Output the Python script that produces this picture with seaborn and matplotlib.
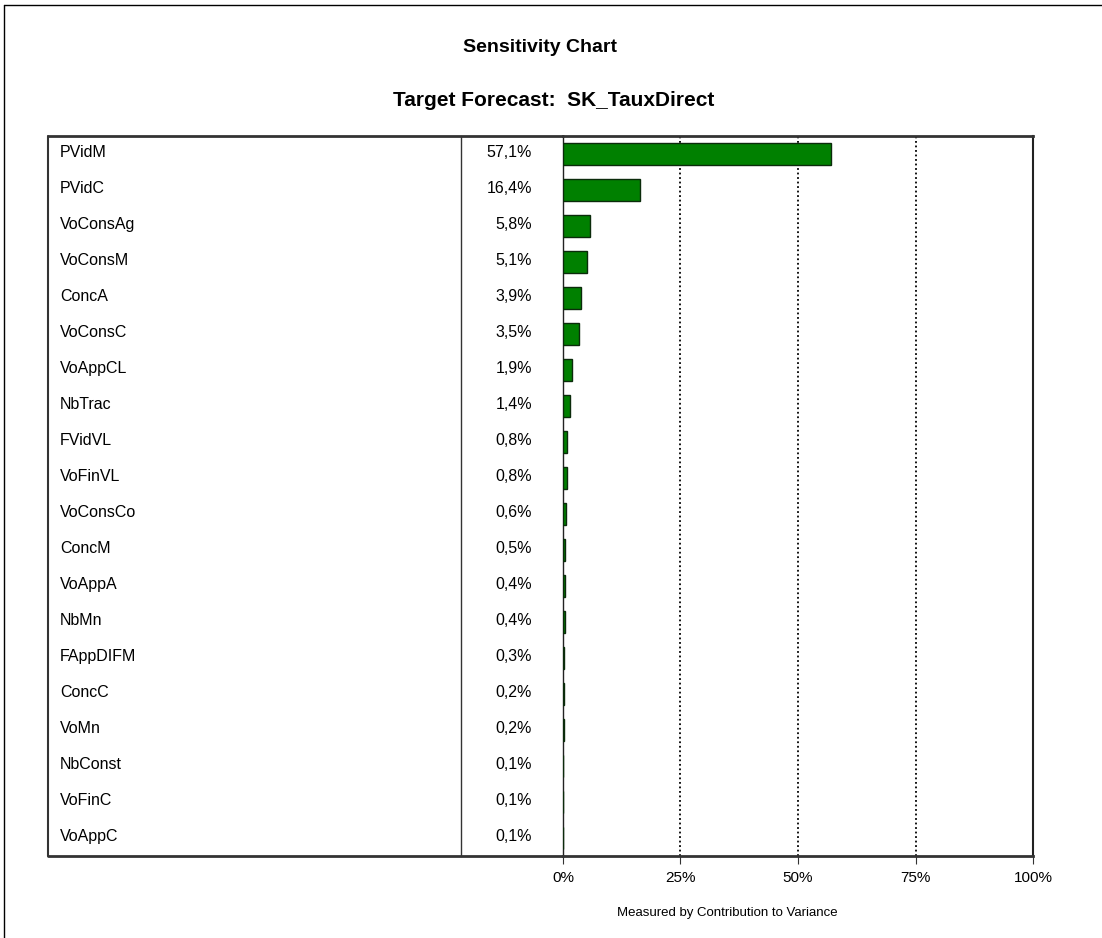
import matplotlib
matplotlib.use("Agg")
import matplotlib.pyplot as plt
import matplotlib.transforms as mtransforms
from matplotlib.lines import Line2D
import seaborn as sns
import pandas as pd

# ---- data ----
variables = ["PVidM", "PVidC", "VoConsAg", "VoConsM", "ConcA", "VoConsC", "VoAppCL",
             "NbTrac", "FVidVL", "VoFinVL", "VoConsCo", "ConcM", "VoAppA", "NbMn",
             "FAppDIFM", "ConcC", "VoMn", "NbConst", "VoFinC", "VoAppC"]
contributions = [57.1, 16.4, 5.8, 5.1, 3.9, 3.5, 1.9, 1.4, 0.8, 0.8, 0.6, 0.5, 0.4, 0.4,
                 0.3, 0.2, 0.2, 0.1, 0.1, 0.1]
value_labels = [f"{v:.1f}%".replace(".", ",") for v in contributions]
x_ticks = [0, 25, 50, 75, 100]
x_tick_labels = ["0%", "25%", "50%", "75%", "100%"]

sns.set_style("white")
plt.rcParams["font.family"] = ["Liberation Sans", "DejaVu Sans"]
plt.rcParams["text.color"] = "black"
plt.rcParams["xtick.color"] = "black"
plt.rcParams["axes.labelcolor"] = "black"

W, H = 1102, 938
fig = plt.figure(figsize=(W / 100, H / 100), dpi=100)


def fx(px):
    return px / W


def fy(py):
    return 1 - py / H


box_left, box_right, box_top, box_bottom = 48, 1033, 136, 856
divider_x, zero_x = 461, 563

ax = fig.add_axes([fx(zero_x), fy(box_bottom), fx(box_right) - fx(zero_x),
                   fy(box_top) - fy(box_bottom)])
df = pd.DataFrame({"Variable": variables, "Contribution": contributions})
sns.barplot(data=df, x="Contribution", y="Variable", orient="h", color="#008000",
            saturation=1, width=0.61, edgecolor="#0b2b0b", linewidth=1.0, ax=ax,
            zorder=3)
ax.set_xlim(0, 100)
ax.set_ylim(len(variables) - 0.5, -0.5)
for xv in [25, 50, 75]:
    ax.axvline(xv, color="black", linestyle=(0, (1, 1.5)), lw=1.3, zorder=1)
ax.set_yticks([])
ax.set_ylabel("")
ax.set_xlabel("")
ax.set_xticks(x_ticks)
ax.set_xticklabels(x_tick_labels, fontsize=11, color="black")
ax.tick_params(axis="x", bottom=True, length=6, width=0.8, direction="out", pad=5,
               color="#333333", labelcolor="black")
ax.spines["left"].set_color("#222222")
ax.spines["left"].set_linewidth(1.0)
ax.spines["right"].set_color("#222222")
ax.spines["right"].set_linewidth(1.5)
for s in ["top", "bottom"]:
    ax.spines[s].set_color("#333333")
    ax.spines[s].set_linewidth(2.0)

trans = mtransforms.blended_transform_factory(fig.transFigure, ax.transData)
for i, (name, lab) in enumerate(zip(variables, value_labels)):
    ax.text(fx(60), i - 0.05, name, transform=trans, ha="left", va="center",
            fontsize=11.5, color="black", clip_on=False)
    ax.text(fx(532), i - 0.05, lab, transform=trans, ha="right", va="center",
            fontsize=11.5, color="black", clip_on=False)


def fig_line(x0, y0, x1, y1, color="#333333", lw=1.5):
    fig.add_artist(Line2D([fx(x0), fx(x1)], [fy(y0), fy(y1)], transform=fig.transFigure,
                          color=color, lw=lw))


# table box around labels
fig_line(box_left, box_top, zero_x, box_top, lw=2.0)
fig_line(box_left, box_bottom, zero_x, box_bottom, lw=2.0)
fig_line(box_left, box_top, box_left, box_bottom, lw=1.5)
fig_line(divider_x, box_top, divider_x, box_bottom, lw=1.0)

# outer frame
fig_line(4, 5, W, 5, color="black", lw=1.0)
fig_line(4, 5, 4, H, color="black", lw=1.0)

fig.text(fx(540), fy(48), "Sensitivity Chart", ha="center", va="center",
         fontsize=14, fontweight="bold", color="black")
fig.text(fx(554), fy(100), "Target Forecast:  SK_TauxDirect", ha="center", va="center",
         fontsize=15, fontweight="bold", color="black")
fig.text(fx(727), fy(913), "Measured by Contribution to Variance", ha="center",
         va="center", fontsize=9.5, color="black")

fig.savefig("out.png", dpi=100)
